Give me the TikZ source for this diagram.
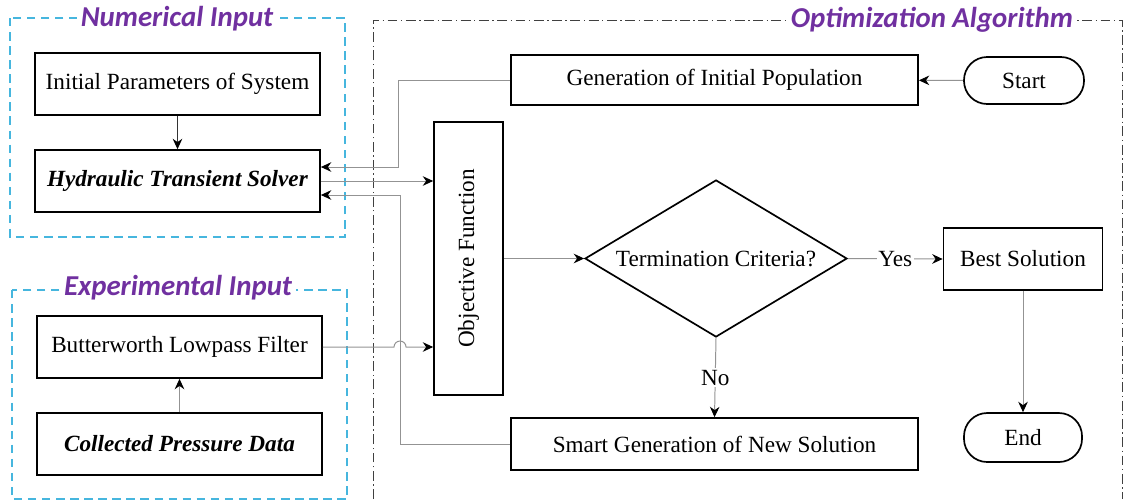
\documentclass[tikz,border=0pt]{standalone}
\usepackage{fontspec}
\setmainfont{Liberation Serif}
\newfontfamily\titlefont{Carlito}
\usepackage{xcolor}
\usepackage{tikz}
\usetikzlibrary{shapes.geometric, arrows.meta, positioning, calc}
\definecolor{titlepurple}{HTML}{7030A0}
\definecolor{framecyan}{RGB}{70,182,222}
\tikzstyle{box} = [draw, line width=1.2pt, font=\fontsize{16.5}{19}\selectfont, inner sep=2pt]
\tikzstyle{term} = [box, rounded corners=0.58cm]
\tikzstyle{arrow} = [draw=gray!85, line width=0.7pt, -{Stealth[black, length=2.6mm, width=2.4mm]}]
\tikzstyle{frame} = [draw=framecyan, line width=1.1pt, dash pattern=on 6pt off 4pt]
\tikzstyle{title} = [fill=white, inner xsep=3pt, text=titlepurple, font=\titlefont\fontsize{20.5}{22}\selectfont\bfseries\itshape]

\begin{document}
\begin{tikzpicture}[x=0.025cm, y=-0.025cm]
    \useasboundingbox (0,0) rectangle (1128,502);

    % Input frames
    \draw[frame] (10,18) rectangle (345,237);
    \node[title] (numtitle) at (177,19) {Numerical Input};
    \draw[frame] (12,290) rectangle (347,499);
    \node[title] (exptitle) at (178,288) {Experimental Input};

    % Optimization frame
    \draw[black!75, line width=0.7pt, dash pattern=on 7pt off 2.5pt on 1pt off 2.5pt] (373,499) -- (373,20) -- (1122,20) -- (1122,499);
    \node[title] (opttitle) at (932,20) {Optimization Algorithm};

    % Numerical input blocks
    \node[box, minimum width=7.125cm, minimum height=1.55cm] (init) at (177.5,84) {Initial Parameters of System};
    \node[box, minimum width=7.125cm, minimum height=1.55cm] (solver) at (177.5,181) {\textbf{\textit{Hydraulic Transient Solver}}};

    % Experimental input blocks
    \node[box, minimum width=7.125cm, minimum height=1.55cm] (filter) at (179.5,347) {Butterworth Lowpass Filter};
    \node[box, minimum width=7.125cm, minimum height=1.55cm] (pressure) at (179.5,444) {\textbf{\textit{Collected Pressure Data}}};

    % Algorithm blocks
    \node[box, minimum width=10.175cm, minimum height=1.25cm] (genpop) at (714.5,80) {Generation of Initial Population};
    \node[term, minimum width=3cm, minimum height=1.175cm] (start) at (1024,80.5) {Start};
    \node[box, minimum width=1.725cm, minimum height=6.825cm] (objfun) at (468.5,258.5) {\rotatebox{90}{Objective Function}};
    \node[box, diamond, aspect=1.67, minimum width=6.55cm, minimum height=3.925cm, inner sep=0pt] (crit) at (716,258.5) {Termination Criteria?};
    \node[box, minimum width=3.975cm, minimum height=1.55cm] (best) at (1023,259) {Best Solution};
    \node[term, minimum width=2.95cm, minimum height=1.225cm] (finish) at (1023,437.5) {End};
    \node[box, minimum width=10.175cm, minimum height=1.3cm] (smart) at (714.5,444) {Smart Generation of New Solution};

    % Connectors
    \draw[arrow, draw=black!80] (init) -- (solver);
    \draw[arrow] (pressure) -- (filter);
    \draw[arrow] (start) -- (genpop);
    \draw[arrow] (genpop.west) -| (398,167) -- ($(solver.east)+(0,-14)$);
    \draw[arrow] (solver.east) -- (solver.east -| objfun.west);
    \draw[arrow] (smart.west) -| (400,195) -- ($(solver.east)+(0,14)$);
    \draw[arrow] (filter.east) -- (394,347) arc[start angle=180, end angle=0, radius=0.15cm] -- (filter.east -| objfun.west);
    \draw[arrow] (objfun.east) -- (crit.west);
    \draw[arrow] (crit.east) -- node[fill=white, inner sep=1pt, font=\fontsize{16.5}{19}\selectfont] (yes) {Yes} (best.west);
    \draw[arrow] (crit.south) -- node[fill=white, inner sep=1pt, font=\fontsize{16.5}{19}\selectfont] (no) {No} (smart.north);
    \draw[arrow] (best) -- (finish);
\end{tikzpicture}
\end{document}
